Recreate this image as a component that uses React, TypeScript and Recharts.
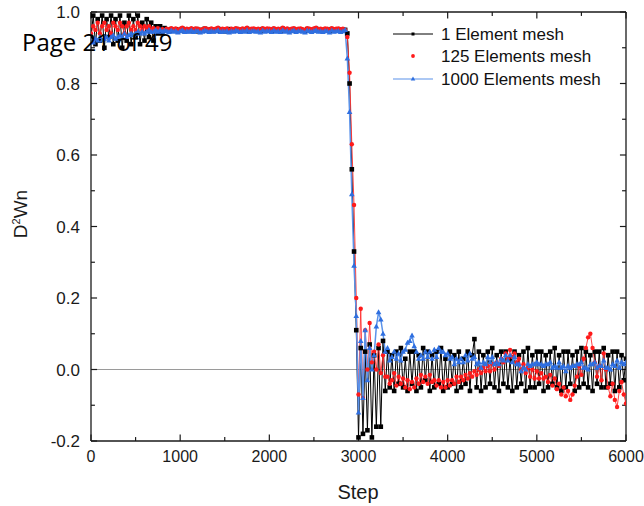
import { LineChart, Line, XAxis, YAxis, ReferenceLine } from 'recharts';

// samples every 25 steps, 0..6000
const STEP_SIZE = 25;

const BLACK = [
  0.93, 0.99, 0.91, 0.98, 0.92, 0.99, 0.9, 0.98, 0.93, 0.99,
  0.91, 0.98, 0.92, 0.99, 0.9, 0.97, 0.92, 0.99, 0.91, 0.98,
  0.93, 0.99, 0.91, 0.97, 0.92, 0.98, 0.93, 0.97, 0.92, 0.96,
  0.94, 0.96, 0.94, 0.955,
  0.95, 0.947, 0.952, 0.948, 0.951, 0.946, 0.95, 0.953, 0.948, 0.95,
  0.947, 0.951, 0.949, 0.952, 0.946, 0.95, 0.948, 0.953, 0.949, 0.95,
  0.951, 0.947, 0.95, 0.953, 0.948, 0.951, 0.946, 0.95, 0.952, 0.949,
  0.948, 0.952, 0.95, 0.947, 0.951, 0.949, 0.953, 0.948, 0.95, 0.951,
  0.949, 0.95, 0.947, 0.952, 0.948, 0.951, 0.95, 0.946, 0.952, 0.949,
  0.95, 0.948, 0.953, 0.949, 0.951, 0.947, 0.95, 0.952, 0.948, 0.95,
  0.951, 0.949, 0.947, 0.952, 0.95, 0.948, 0.951, 0.953, 0.949, 0.95,
  0.948, 0.951, 0.95, 0.947, 0.952, 0.949, 0.95, 0.951, 0.948, 0.95,
  0.95, 0.94, 0.8, 0.56, 0.33, 0.11,
  -0.19, 0.06, -0.18, 0.05, -0.17, 0.07, -0.19, 0.04, -0.16, 0.06,
  -0.16, 0.08, -0.06,
  0.05, -0.05, 0.04, -0.06, 0.05, -0.04, 0.06, -0.05, 0.03, -0.06,
  0.05, -0.04, 0.05, -0.06, 0.04, -0.05, 0.06, -0.03, 0.05, -0.06,
  0.04, -0.05, 0.05, -0.04, 0.06, -0.06, 0.03, -0.05, 0.05, -0.04,
  0.04, -0.06, 0.05, -0.05, 0.03, -0.04, 0.05, -0.06, 0.04, 0.085,
  -0.05, 0.05, -0.06, 0.04, -0.05, 0.05, -0.04, 0.06, -0.05, 0.04,
  -0.06, 0.05, -0.04, 0.05, -0.05, 0.03, -0.06, 0.05, -0.05, 0.04,
  -0.04, 0.05, -0.06, 0.06, -0.05, 0.04, -0.05, 0.05, -0.04, 0.05,
  -0.06, 0.04, -0.05, 0.05, -0.04, 0.06, -0.05, 0.04, -0.06, 0.05,
  -0.05, 0.05, -0.04, 0.04, -0.06, 0.05, -0.05, 0.06, -0.04, 0.05,
  -0.05, 0.04, -0.06, 0.05, -0.04, 0.05, -0.05, 0.06, -0.05, 0.04,
  -0.04, 0.05, -0.06, 0.05, -0.05, 0.04, -0.03, 0.03,
];

const RED = [
  0.94, 0.96, 0.95, 0.97, 0.94, 0.96, 0.97, 0.95, 0.96, 0.94,
  0.97, 0.96, 0.95, 0.97, 0.96, 0.94, 0.96, 0.97, 0.95, 0.96,
  0.95, 0.97, 0.96, 0.95, 0.96, 0.955, 0.96, 0.95, 0.955, 0.95,
  0.955, 0.95, 0.952, 0.95,
  0.953, 0.951, 0.955, 0.952, 0.954, 0.95, 0.953, 0.956, 0.951, 0.953,
  0.952, 0.955, 0.951, 0.954, 0.953, 0.95, 0.952, 0.955, 0.953, 0.951,
  0.954, 0.952, 0.953, 0.956, 0.951, 0.953, 0.952, 0.954, 0.95, 0.953,
  0.952, 0.955, 0.953, 0.951, 0.954, 0.952, 0.956, 0.951, 0.953, 0.954,
  0.952, 0.953, 0.95, 0.955, 0.952, 0.954, 0.953, 0.951, 0.955, 0.952,
  0.953, 0.951, 0.956, 0.952, 0.954, 0.95, 0.953, 0.955, 0.951, 0.953,
  0.954, 0.952, 0.95, 0.955, 0.953, 0.951, 0.954, 0.956, 0.952, 0.953,
  0.951, 0.954, 0.953, 0.95, 0.955, 0.952, 0.953, 0.954, 0.951, 0.953,
  0.95, 0.93, 0.83, 0.63, 0.46, 0.2,
  -0.07, 0.17, -0.08, 0.11, 0.0, 0.13, 0.02, 0.05, 0.0, 0.07,
  -0.01, 0.04, -0.02,
  -0.02, -0.04, -0.03, -0.01, -0.045, -0.02, -0.04, -0.025, -0.05, -0.03,
  -0.055, -0.035, -0.05, -0.025, -0.04, -0.015, -0.035, -0.02, -0.04, -0.015,
  -0.035, -0.03, -0.045, -0.03, -0.05, -0.035, -0.05, -0.03, -0.045, -0.03,
  -0.04, -0.02, -0.035, -0.02, -0.03, -0.015, -0.025, -0.01, -0.02, -0.005,
  -0.015, 0.0, -0.01, 0.005, -0.005, 0.01, -0.005, 0.015, 0.0, 0.02,
  0.01, 0.03, 0.02, 0.045, 0.03, 0.055, 0.035, 0.045, 0.02, 0.03,
  0.0, 0.015, -0.01, 0.005, -0.02, 0.0, -0.025, -0.005, -0.025, -0.01,
  -0.025, -0.02, -0.035, -0.015, -0.045, -0.025, -0.055, -0.04, -0.07, -0.05,
  -0.075, -0.06, -0.085, -0.07, -0.045, -0.02, 0.01, -0.015, 0.03, 0.06,
  0.09, 0.1, 0.06, 0.02, -0.02, 0.01, -0.03, 0.045, 0.0, -0.05,
  -0.075, -0.04, -0.085, -0.105, -0.06, -0.035, -0.07, -0.095,
];

const BLUE = [
  0.92, 0.915, 0.925, 0.92, 0.93, 0.92, 0.925, 0.93, 0.92, 0.93,
  0.935, 0.925, 0.93, 0.935, 0.93, 0.94, 0.93, 0.935, 0.94, 0.935,
  0.94, 0.945, 0.94, 0.945, 0.94, 0.945, 0.95, 0.945, 0.945, 0.95,
  0.945, 0.95, 0.945, 0.948,
  0.946, 0.944, 0.948, 0.945, 0.947, 0.943, 0.946, 0.949, 0.944, 0.946,
  0.945, 0.948, 0.944, 0.947, 0.946, 0.943, 0.945, 0.948, 0.946, 0.944,
  0.947, 0.945, 0.946, 0.949, 0.944, 0.946, 0.945, 0.947, 0.943, 0.946,
  0.945, 0.948, 0.946, 0.944, 0.947, 0.945, 0.949, 0.944, 0.946, 0.947,
  0.945, 0.946, 0.943, 0.948, 0.945, 0.947, 0.946, 0.944, 0.948, 0.945,
  0.946, 0.944, 0.949, 0.945, 0.947, 0.943, 0.946, 0.948, 0.944, 0.946,
  0.947, 0.945, 0.943, 0.948, 0.946, 0.944, 0.947, 0.949, 0.945, 0.946,
  0.944, 0.947, 0.946, 0.943, 0.948, 0.945, 0.946, 0.947, 0.944, 0.946,
  0.95, 0.87, 0.72, 0.49, 0.29, 0.15,
  -0.12, 0.08, -0.08, 0.11, -0.03, 0.06, 0.0, 0.04, 0.12, 0.16,
  0.14, 0.1, 0.05,
  0.06, 0.025, 0.035, 0.05, 0.03, 0.045, 0.025, 0.05, 0.055, 0.075,
  0.08, 0.095, 0.065, 0.05, 0.03, 0.04, 0.03, 0.05, 0.035, 0.05,
  0.03, 0.055, 0.035, 0.06, 0.05, 0.05, 0.04, 0.045, 0.03, 0.035,
  0.015, 0.03, 0.02, 0.03, 0.02, 0.04, 0.025, 0.045, 0.03, 0.035,
  0.015, 0.02, 0.005, 0.02, 0.015, 0.035, 0.02, 0.035, 0.015, 0.02,
  0.015, 0.03, 0.025, 0.04, 0.025, 0.04, 0.02, 0.035, 0.015, 0.015,
  -0.005, 0.005, 0.0, 0.015, 0.01, 0.015, 0.015, 0.02, 0.015, 0.015,
  0.01, 0.015, 0.015, 0.02, 0.005, 0.01, 0.005, 0.02, 0.005, 0.01,
  -0.005, 0.01, 0.005, 0.01, 0.01, 0.015, 0.015, 0.02, 0.005, 0.005,
  0.0, 0.015, 0.015, 0.02, 0.005, 0.01, 0.01, 0.025, 0.005, 0.005,
  0.0, 0.015, 0.01, 0.025, 0.005, 0.02, 0.015, 0.02,
];

const X_MAJOR = [0, 1000, 2000, 3000, 4000, 5000, 6000];
const X_MINOR = [500, 1500, 2500, 3500, 4500, 5500];
const Y_MAJOR = [-0.2, 0, 0.2, 0.4, 0.6, 0.8, 1.0];
const Y_MINOR = [-0.1, 0.1, 0.3, 0.5, 0.7, 0.9];

const SERIES_NAMES = ['1 Element mesh', '125 Elements mesh', '1000 Elements mesh'];

const FONT = '"Liberation Sans", Arial, sans-serif';
const FRAME = '#1a1a1a';
const RED_MARK = '#ff1a1a';
const BLUE_MARK = '#2f6fe0';
const BLUE_LINE = '#5a92ea';

const data = BLACK.map((v, i) => ({
  step: i * STEP_SIZE,
  black: v,
  red: RED[i],
  blue: BLUE[i],
}));

// tick lengths expressed in data units (~6px / ~4px)
const Y_LEN_MAJOR = 0.018;
const Y_LEN_MINOR = 0.011;
const X_LEN_MAJOR = 68;
const X_LEN_MINOR = 44;

const squareDot = (p: any) => {
  if (p.cx == null || p.cy == null) return <g key={`b-${p.index}`} />;
  return <rect key={`b-${p.index}`} x={p.cx - 2.3} y={p.cy - 2.3} width={4.6} height={4.6} fill="#000" />;
};

const circleDot = (p: any) => {
  if (p.cx == null || p.cy == null) return <g key={`r-${p.index}`} />;
  return <circle key={`r-${p.index}`} cx={p.cx} cy={p.cy} r={2.2} fill={RED_MARK} />;
};

const triangleDot = (p: any) => {
  if (p.cx == null || p.cy == null) return <g key={`t-${p.index}`} />;
  const { cx, cy } = p;
  return (
    <path
      key={`t-${p.index}`}
      d={`M${cx},${cy - 3} L${cx + 2.8},${cy + 2} L${cx - 2.8},${cy + 2} Z`}
      fill={BLUE_MARK}
    />
  );
};

function tickSegments() {
  const out: any[] = [];
  const add = (key: string, seg: any) =>
    out.push(<ReferenceLine key={key} segment={seg} stroke={FRAME} strokeWidth={1.2} ifOverflow="visible" />);
  [...X_MAJOR.map((t) => [t, Y_LEN_MAJOR]), ...X_MINOR.map((t) => [t, Y_LEN_MINOR])].forEach(([t, len]) => {
    add(`xb-${t}`, [{ x: t, y: -0.2 }, { x: t, y: -0.2 + len }]);
    add(`xt-${t}`, [{ x: t, y: 1.0 }, { x: t, y: 1.0 - len }]);
  });
  [...Y_MAJOR.map((t) => [t, X_LEN_MAJOR]), ...Y_MINOR.map((t) => [t, X_LEN_MINOR])].forEach(([t, len]) => {
    add(`yl-${t}`, [{ x: 0, y: t }, { x: len, y: t }]);
    add(`yr-${t}`, [{ x: 6000, y: t }, { x: 6000 - len, y: t }]);
  });
  return out;
}

export default function App() {
  return (
    <div style={{ position: 'absolute', left: 0, top: 0, width: 644, height: 506, background: '#fff' }}>
      <LineChart
        width={644}
        height={506}
        data={data}
        margin={{ top: 12, right: 18, left: 31, bottom: 15 }}
      >
        <ReferenceLine y={0} stroke="#9a9a9a" strokeWidth={1} />
        <XAxis
          dataKey="step"
          type="number"
          domain={[0, 6000]}
          ticks={X_MAJOR}
          allowDataOverflow
          height={50}
          tickSize={0}
          tickMargin={10}
          tickLine={false}
          axisLine={{ stroke: FRAME, strokeWidth: 1.3 }}
          tick={{ fill: '#1a1a1a', fontSize: 16, fontFamily: FONT }}
          interval={0}
        />
        <YAxis
          type="number"
          domain={[-0.2, 1.0]}
          ticks={Y_MAJOR}
          allowDataOverflow
          width={60}
          tickSize={0}
          tickMargin={11}
          tickLine={false}
          axisLine={{ stroke: FRAME, strokeWidth: 1.3 }}
          tick={{ fill: '#1a1a1a', fontSize: 17, fontFamily: FONT }}
          tickFormatter={(v: number) => v.toFixed(1)}
          interval={0}
        />
        <ReferenceLine y={1.0} stroke={FRAME} strokeWidth={1.3} ifOverflow="visible" />
        <ReferenceLine x={6000} stroke={FRAME} strokeWidth={1.3} ifOverflow="visible" />
        {tickSegments()}
        <Line
          dataKey="black"
          name={SERIES_NAMES[0]}
          stroke="#000"
          strokeWidth={1}
          dot={squareDot}
          activeDot={false}
          isAnimationActive={false}
        />
        <Line
          dataKey="red"
          name={SERIES_NAMES[1]}
          stroke="#ff3030"
          strokeWidth={0.9}
          dot={circleDot}
          activeDot={false}
          isAnimationActive={false}
        />
        <Line
          dataKey="blue"
          name={SERIES_NAMES[2]}
          stroke={BLUE_LINE}
          strokeWidth={1.5}
          dot={triangleDot}
          activeDot={false}
          isAnimationActive={false}
        />
      </LineChart>

      <svg
        width={644}
        height={506}
        style={{ position: 'absolute', left: 0, top: 0, pointerEvents: 'none' }}
      >
        {/* legend */}
        <g fontFamily={FONT} fontSize={17} fill="#111">
          <line x1={393} x2={433} y1={34} y2={34} stroke="#000" strokeWidth={1} />
          <rect x={411.5} y={32.5} width={3} height={3} fill="#000" />
          <text x={441} y={40}>{SERIES_NAMES[0]}</text>
          <circle cx={413} cy={56} r={1.9} fill={RED_MARK} />
          <text x={441} y={62}>{SERIES_NAMES[1]}</text>
          <line x1={393} x2={433} y1={79} y2={79} stroke={BLUE_LINE} strokeWidth={1.2} />
          <path d="M413,76.5 L415.3,80.6 L410.7,80.6 Z" fill={BLUE_MARK} />
          <text x={441} y={85}>{SERIES_NAMES[2]}</text>
        </g>
        {/* axis titles */}
        <text x={358} y={499} textAnchor="middle" fontFamily={FONT} fontSize={20} fill="#1a1a1a">
          Step
        </text>
        <text
          transform="translate(27,214) rotate(-90)"
          textAnchor="middle"
          fontFamily={FONT}
          fontSize={19}
          fill="#1a1a1a"
        >
          D<tspan dy={-7} fontSize={11}>2</tspan>
          <tspan dy={7}>Wn</tspan>
        </text>
        {/* page overlay from the source document */}
        <text x={22} y={51} fontFamily='"Open Sans", sans-serif' fontSize={24} fill="#000">
          Page 21 of 49
        </text>
      </svg>
    </div>
  );
}
